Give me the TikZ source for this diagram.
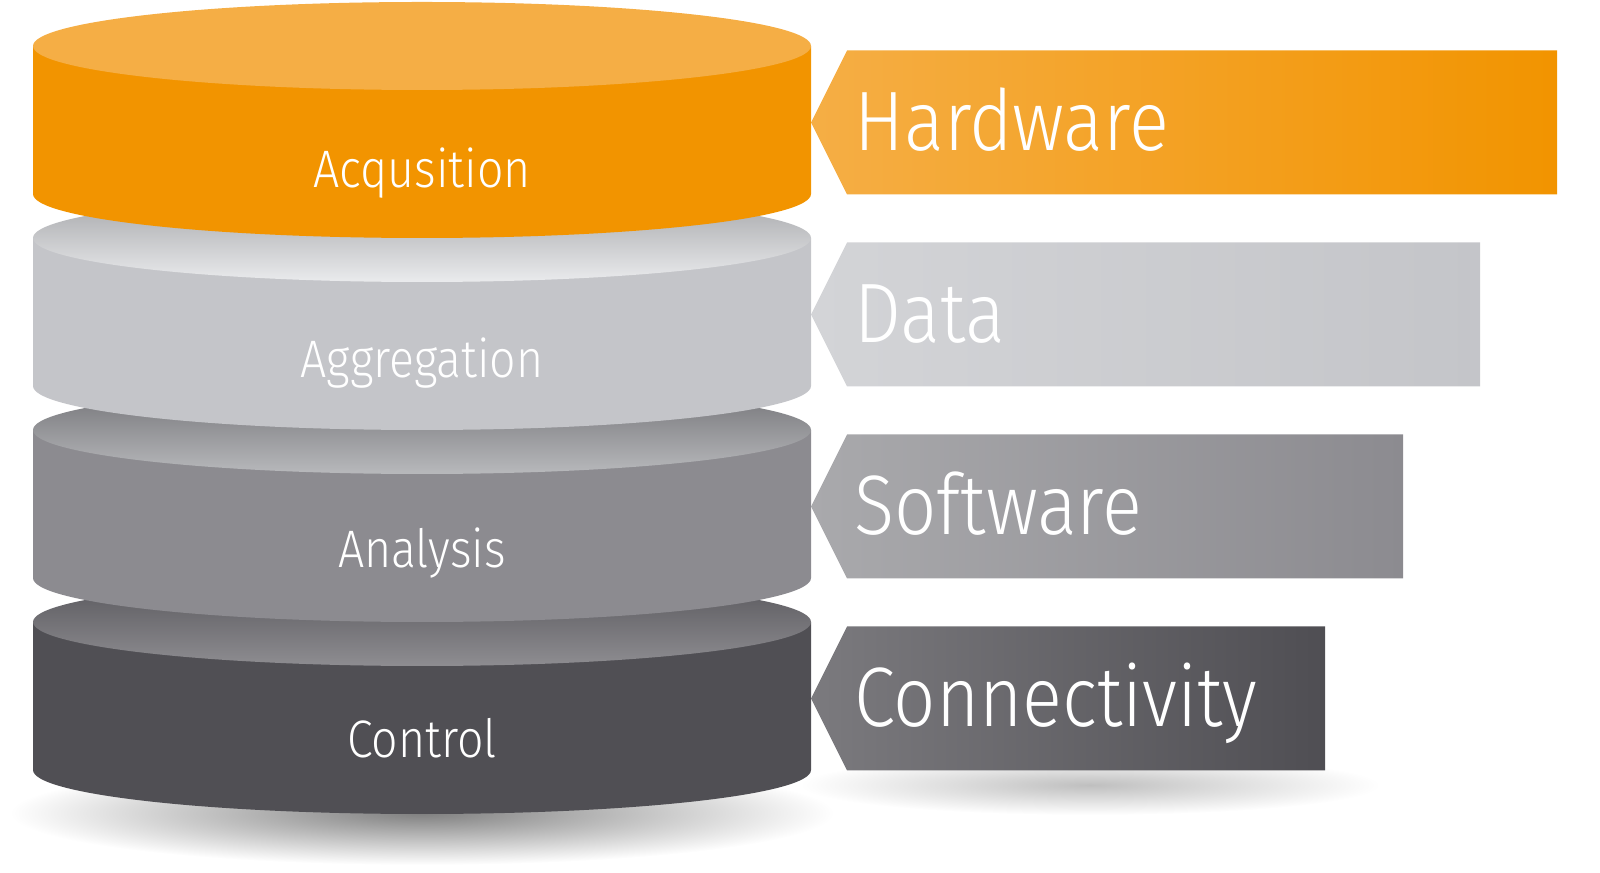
\documentclass[tikz,border=0pt]{standalone}
\usepackage{fontspec}
\newfontfamily\labelfont{Fira Sans Light}[FakeStretch=0.88]
\usepackage{tikz}
\definecolor{acqbody}{HTML}{F29400}
\definecolor{acqtop}{HTML}{F5AE45}
\definecolor{aggbody}{HTML}{C4C5C9}
\definecolor{aggtopl}{HTML}{EAEBED}
\definecolor{aggtopd}{HTML}{A4A5A8}
\definecolor{anabody}{HTML}{8C8B90}
\definecolor{anatopl}{HTML}{B8B9BC}
\definecolor{anatopd}{HTML}{727276}
\definecolor{ctlbody}{HTML}{504F54}
\definecolor{ctltopl}{HTML}{8E8D91}
\definecolor{ctltopd}{HTML}{57565B}
\definecolor{hwleft}{HTML}{F5AE45}
\definecolor{hwright}{HTML}{F29400}
\definecolor{datleft}{HTML}{D3D4D7}
\definecolor{datright}{HTML}{C4C5C9}
\definecolor{swleft}{HTML}{A9A9AC}
\definecolor{swright}{HTML}{8C8B90}
\definecolor{conleft}{HTML}{7B7A7E}
\definecolor{conright}{HTML}{4F4E53}
\tikzset{
  layerlab/.style={text=white, font=\labelfont\fontsize{15}{18}\selectfont, anchor=base},
  boxlab/.style={text=white, font=\labelfont\fontsize{24}{29}\selectfont, anchor=base west},
}

\begin{document}
\begin{tikzpicture}[x=0.01cm, y=0.01cm]
\useasboundingbox (0,0) rectangle (1600,873);

% shadows
\shade[inner color=black!50, outer color=white] (422,60) ellipse[x radius=412, y radius=52];
\shade[inner color=black!25, outer color=white] (1090,88) ellipse[x radius=290, y radius=30];

% cylinders, bottom layer first
\foreach \i/\nm/\lab/\body/\tl/\td in {3/ctl/Control/ctlbody/ctltopl/ctltopd,
    2/ana/Analysis/anabody/anatopl/anatopd,
    1/agg/Aggregation/aggbody/aggtopl/aggtopd,
    0/acq/Acqusition/acqbody/acqtop/acqtop}{
  \pgfmathsetmacro\yt{827-192*\i}
  \pgfmathsetmacro\yb{\yt-148}
  \fill[\body] (33,\yt) -- (33,\yb) arc[start angle=180, end angle=360, x radius=389, y radius=44]
    -- (811,\yt) -- cycle;
  \shade[top color=\td, middle color=\td, bottom color=\tl] (422,\yt) ellipse[x radius=389, y radius=44];
  \node[layerlab] (\nm) at (422,685-190*\i) {\lab};
}

% arrow boxes
\foreach \j/\nm/\word/\cl/\cr/\bx in {0/hw/Hardware/hwleft/hwright/1557,
    1/dat/Data/datleft/datright/1480,
    2/sw/Software/swleft/swright/1403,
    3/con/Connectivity/conleft/conright/1325}{
  \pgfmathsetmacro\yc{750.5-192*\j}
  \shade[left color=\cl, right color=\cr] (811,\yc) -- (847,\yc+72) -- (\bx,\yc+72)
    -- (\bx,\yc-72) -- (847,\yc-72) -- cycle;
  \node[boxlab] (\nm) at (842,\yc-28) {\word};
}
\end{tikzpicture}
\end{document}
